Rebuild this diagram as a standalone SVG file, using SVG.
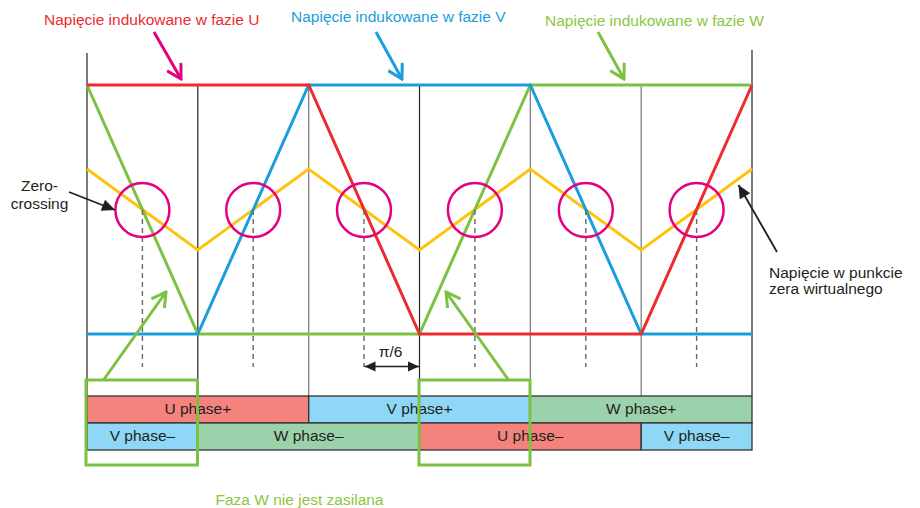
<svg xmlns="http://www.w3.org/2000/svg" width="920" height="508" viewBox="0 0 920 508">
<style>
text{font-family:"Liberation Sans",Arial,sans-serif;font-size:15.5px;fill:#231f20}
.c{text-anchor:middle}
.grid{stroke:#222;stroke-width:1.2;fill:none}
.gridg{stroke:#777;stroke-width:1.2;fill:none}
.wave{fill:none;stroke-width:3;stroke-linejoin:miter}
.zc{fill:none;stroke:#e4007f;stroke-width:2.5}
.dash{stroke:#666;stroke-width:1.4;stroke-dasharray:5,4}
.cell{stroke:#333;stroke-width:1.3}
.box{fill:none;stroke:#7cc242;stroke-width:3}
</style>
<defs>
<marker id="ahM" viewBox="-16 -9 18 18" refX="0" refY="0" markerWidth="18" markerHeight="18" markerUnits="userSpaceOnUse" orient="auto"><path d="M-14,-8 L0,0 L-14,8" fill="none" stroke="#e4007f" stroke-width="3"/></marker>
<marker id="ahB" viewBox="-16 -9 18 18" refX="0" refY="0" markerWidth="18" markerHeight="18" markerUnits="userSpaceOnUse" orient="auto"><path d="M-14,-8 L0,0 L-14,8" fill="none" stroke="#1a9ddb" stroke-width="3"/></marker>
<marker id="ahG" viewBox="-16 -9 18 18" refX="0" refY="0" markerWidth="18" markerHeight="18" markerUnits="userSpaceOnUse" orient="auto"><path d="M-14,-8 L0,0 L-14,8" fill="none" stroke="#7cc242" stroke-width="3"/></marker>
<marker id="ahK" viewBox="-14 -7 15 14" refX="0" refY="0" markerWidth="15" markerHeight="14" markerUnits="userSpaceOnUse" orient="auto"><path d="M-13,-6 L0,0 L-13,6 z" fill="#231f20"/></marker>
<marker id="ahK2" viewBox="-12 -6 13 12" refX="0" refY="0" markerWidth="13" markerHeight="12" markerUnits="userSpaceOnUse" orient="auto-start-reverse"><path d="M-11,-5 L0,0 L-11,5 z" fill="#231f20"/></marker>
</defs>

<g id="grid">
<line class="grid" x1="87" y1="53" x2="87" y2="396"/>
<line class="grid" x1="197.8" y1="85" x2="197.8" y2="396"/>
<line class="gridg" x1="308.7" y1="85" x2="308.7" y2="396"/>
<line class="grid" x1="419.5" y1="85" x2="419.5" y2="396"/>
<line class="gridg" x1="530.3" y1="85" x2="530.3" y2="396"/>
<line class="gridg" x1="641.2" y1="85" x2="641.2" y2="396"/>
<line class="grid" x1="752" y1="50" x2="752" y2="396"/>
</g>

<g id="neutral">
<polyline class="wave" stroke="#ffc20e" points="87,169 197.8,250 308.7,169 419.5,250 530.3,169 641.2,250 752,169"/>
</g>
<g id="phaseW">
<polyline class="wave" stroke="#7cc242" points="87,85 197.8,334 419.5,334 530.3,85 752,85"/>
</g>
<g id="phaseV">
<polyline class="wave" stroke="#1a9ddb" points="87,334 197.8,334 308.7,85 530.3,85 641.2,334 752,334"/>
</g>
<g id="phaseU">
<polyline class="wave" stroke="#ee2a2e" points="87,85 308.7,85 419.5,334 641.2,334 752,85"/>
</g>

<g id="zero-crossings">
<line class="dash" x1="142.4" y1="210" x2="142.4" y2="367"/>
<line class="dash" x1="253.2" y1="210" x2="253.2" y2="367"/>
<line class="dash" x1="364" y1="210" x2="364" y2="367"/>
<line class="dash" x1="474.9" y1="210" x2="474.9" y2="367"/>
<line class="dash" x1="585.8" y1="210" x2="585.8" y2="367"/>
<line class="dash" x1="696.6" y1="210" x2="696.6" y2="367"/>
<circle class="zc" cx="142.4" cy="210" r="27"/>
<circle class="zc" cx="253.2" cy="210" r="27"/>
<circle class="zc" cx="364" cy="210" r="27"/>
<circle class="zc" cx="474.9" cy="210" r="27"/>
<circle class="zc" cx="585.8" cy="210" r="27"/>
<circle class="zc" cx="696.6" cy="210" r="27"/>
</g>

<g id="table">
<rect class="cell" x="87" y="396" width="221.7" height="27" fill="#f4837d"/>
<rect class="cell" x="308.7" y="396" width="221.6" height="27" fill="#8ed7f6"/>
<rect class="cell" x="530.3" y="396" width="221.7" height="27" fill="#9bd2ac"/>
<rect class="cell" x="87" y="423" width="110.8" height="27" fill="#8ed7f6"/>
<rect class="cell" x="197.8" y="423" width="221.7" height="27" fill="#9bd2ac"/>
<rect class="cell" x="419.5" y="423" width="221.7" height="27" fill="#f4837d"/>
<rect class="cell" x="641.2" y="423" width="110.8" height="27" fill="#8ed7f6"/>
<text class="c" x="197.9" y="414">U phase+</text>
<text class="c" x="419.5" y="414">V phase+</text>
<text class="c" x="641.2" y="414">W phase+</text>
<text class="c" x="142.4" y="441">V phase–</text>
<text class="c" x="308.7" y="441">W phase–</text>
<text class="c" x="530.3" y="441">U phase–</text>
<text class="c" x="696.6" y="441">V phase–</text>
</g>

<g id="unpowered-boxes">
<rect class="box" x="86" y="380" width="111.5" height="85"/>
<rect class="box" x="419" y="380" width="111" height="85"/>
</g>

<g id="connectors">
<line x1="154" y1="32" x2="181" y2="79" stroke="#e4007f" stroke-width="3" marker-end="url(#ahM)"/>
<line x1="376" y1="32" x2="402" y2="79" stroke="#1a9ddb" stroke-width="3" marker-end="url(#ahB)"/>
<line x1="598" y1="32" x2="624" y2="79" stroke="#7cc242" stroke-width="3" marker-end="url(#ahG)"/>
<line x1="103.5" y1="380" x2="166" y2="292" stroke="#7cc242" stroke-width="3" marker-end="url(#ahG)"/>
<line x1="508.5" y1="380" x2="446" y2="292" stroke="#7cc242" stroke-width="3" marker-end="url(#ahG)"/>
<line x1="69" y1="192" x2="115" y2="210" stroke="#231f20" stroke-width="1.8" marker-end="url(#ahK)"/>
<line x1="777" y1="252" x2="738.5" y2="185" stroke="#231f20" stroke-width="1.8" marker-end="url(#ahK)"/>
<line x1="364.5" y1="366.5" x2="419" y2="366.5" stroke="#231f20" stroke-width="1.6" marker-start="url(#ahK2)" marker-end="url(#ahK2)"/>
</g>

<g id="labels">
<text x="44" y="25" style="fill:#ee2a2e">Napięcie indukowane w fazie U</text>
<text x="291" y="21.5" style="fill:#1a9ddb">Napięcie indukowane w fazie V</text>
<text x="545" y="26" style="fill:#8dc63f">Napięcie indukowane w fazie W</text>
<text class="c" x="39.5" y="191">Zero-</text>
<text class="c" x="39.5" y="209">crossing</text>
<text x="769" y="278">Napięcie w punkcie</text>
<text x="769" y="294">zera wirtualnego</text>
<text class="c" x="390.5" y="357">π/6</text>
<text x="215.5" y="505" style="fill:#8dc63f">Faza W nie jest zasilana</text>
</g>
</svg>
